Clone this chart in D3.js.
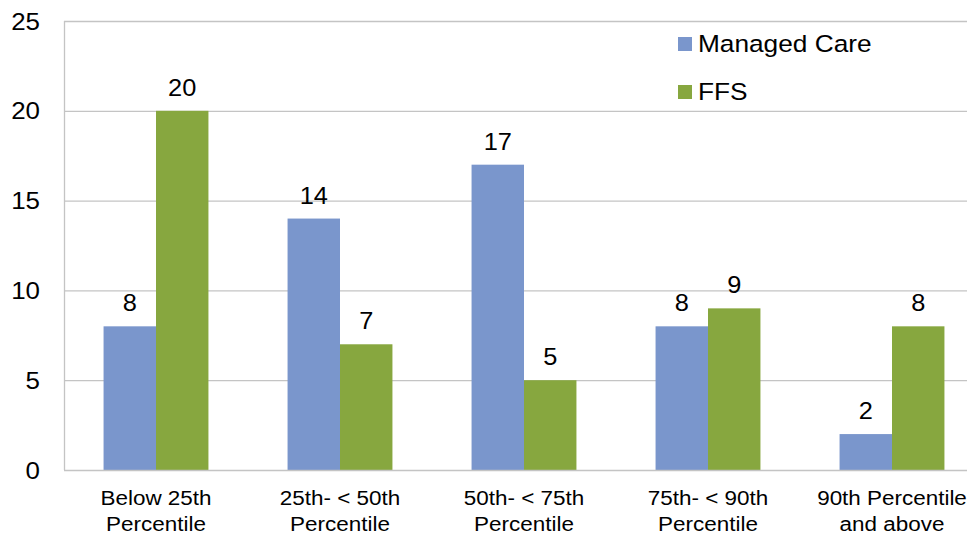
<!DOCTYPE html>
<html lang="en">
<head>
<meta charset="utf-8" />
<title>Managed Care vs FFS by percentile</title>
<style>
html,body{margin:0;background:#fff}
svg{display:block;font-family:"Liberation Sans",Arial,sans-serif}
</style>
<script src="https://cdn.jsdelivr.net/npm/d3@7/dist/d3.min.js"></script>
</head>
<body>
<div id="chart"></div>
<script>
/* ---------------------------- data ----------------------------------- */
const categories = [
  ["Below 25th", "Percentile"],
  ["25th- < 50th", "Percentile"],
  ["50th- < 75th", "Percentile"],
  ["75th- < 90th", "Percentile"],
  ["90th Percentile", "and above"]
];
const seriesNames   = ["Managed Care", "FFS"];
const managedCare   = [8, 14, 17, 8, 2];
const ffs           = [20, 7, 5, 9, 8];
const yTicks        = [0, 5, 10, 15, 20, 25];
const colors        = ["#7a96cc", "#87a73f"];

/* ---------------------------- layout --------------------------------- */
const width = 967, height = 536;
const plot  = {left: 64, right: 984, top: 21, bottom: 470};
const SX = 1.08;   // the source text is a little wide

const svg = d3.select("#chart").append("svg")
  .attr("width", width).attr("height", height);

const catIdx = d3.range(categories.length);
const x0 = d3.scaleBand().domain(catIdx)
  .range([plot.left, plot.right]).paddingInner(0.43).paddingOuter(0.215);
const x1 = d3.scaleBand().domain(seriesNames).range([0, x0.bandwidth()]);
const y  = d3.scaleLinear().domain([0, 25]).range([plot.bottom, plot.top]);

const values = [managedCare, ffs];

// stretched text helper
function label(g, x, yy, txt, size, anchor) {
  return g.append("text")
    .attr("transform", `translate(${x},${yy}) scale(${SX},1)`)
    .attr("text-anchor", anchor || "middle")
    .attr("font-size", size)
    .attr("fill", "#000")
    .text(txt);
}

/* ---------------------------- grid / axes ---------------------------- */
svg.append("g").selectAll("line").data(yTicks.filter(d => d > 0)).join("line")
  .attr("x1", plot.left).attr("x2", plot.right)
  .attr("y1", d => y(d) + 0.5).attr("y2", d => y(d) + 0.5)
  .attr("stroke", "#c4c4c4").attr("stroke-width", 1.3);

const tg = svg.append("g");
yTicks.forEach(t => label(tg, 40, y(t) + 8.5, t, 24, "end"));

/* ---------------------------- bars ----------------------------------- */
seriesNames.forEach((s, si) => {
  const g = svg.append("g");
  g.selectAll("rect").data(values[si]).join("rect")
    .attr("x", (d, i) => x0(i) + x1(s))
    .attr("y", d => y(d))
    .attr("width", x1.bandwidth())
    .attr("height", d => y(0) - y(d))
    .attr("fill", colors[si]);
  values[si].forEach((v, i) =>
    label(g, x0(i) + x1(s) + x1.bandwidth() / 2, y(v) - 15, v, 23.5));
});

// axis lines drawn on top
svg.append("line")
  .attr("x1", plot.left + 0.5).attr("x2", plot.left + 0.5)
  .attr("y1", plot.top).attr("y2", plot.bottom)
  .attr("stroke", "#c4c4c4").attr("stroke-width", 1.3);
svg.append("line")
  .attr("x1", plot.left).attr("x2", plot.right)
  .attr("y1", plot.bottom + 0.5).attr("y2", plot.bottom + 0.5)
  .attr("stroke", "#c4c4c4").attr("stroke-width", 1.3);

/* ---------------------------- category labels ------------------------ */
const cg = svg.append("g");
categories.forEach((lines, i) => {
  const cx = x0(i) + x0.bandwidth() / 2;
  lines.forEach((t, li) => label(cg, cx, 505 + li * 26, t, 20.8));
});

/* ---------------------------- legend --------------------------------- */
const lg = svg.append("g");
seriesNames.forEach((s, si) => {
  const ly = 37 + si * 48;
  lg.append("rect").attr("x", 678).attr("y", ly)
    .attr("width", 14).attr("height", 14).attr("fill", colors[si]);
  label(lg, 698, ly + 15, s, 24.3, "start");
});
</script>
</body>
</html>
